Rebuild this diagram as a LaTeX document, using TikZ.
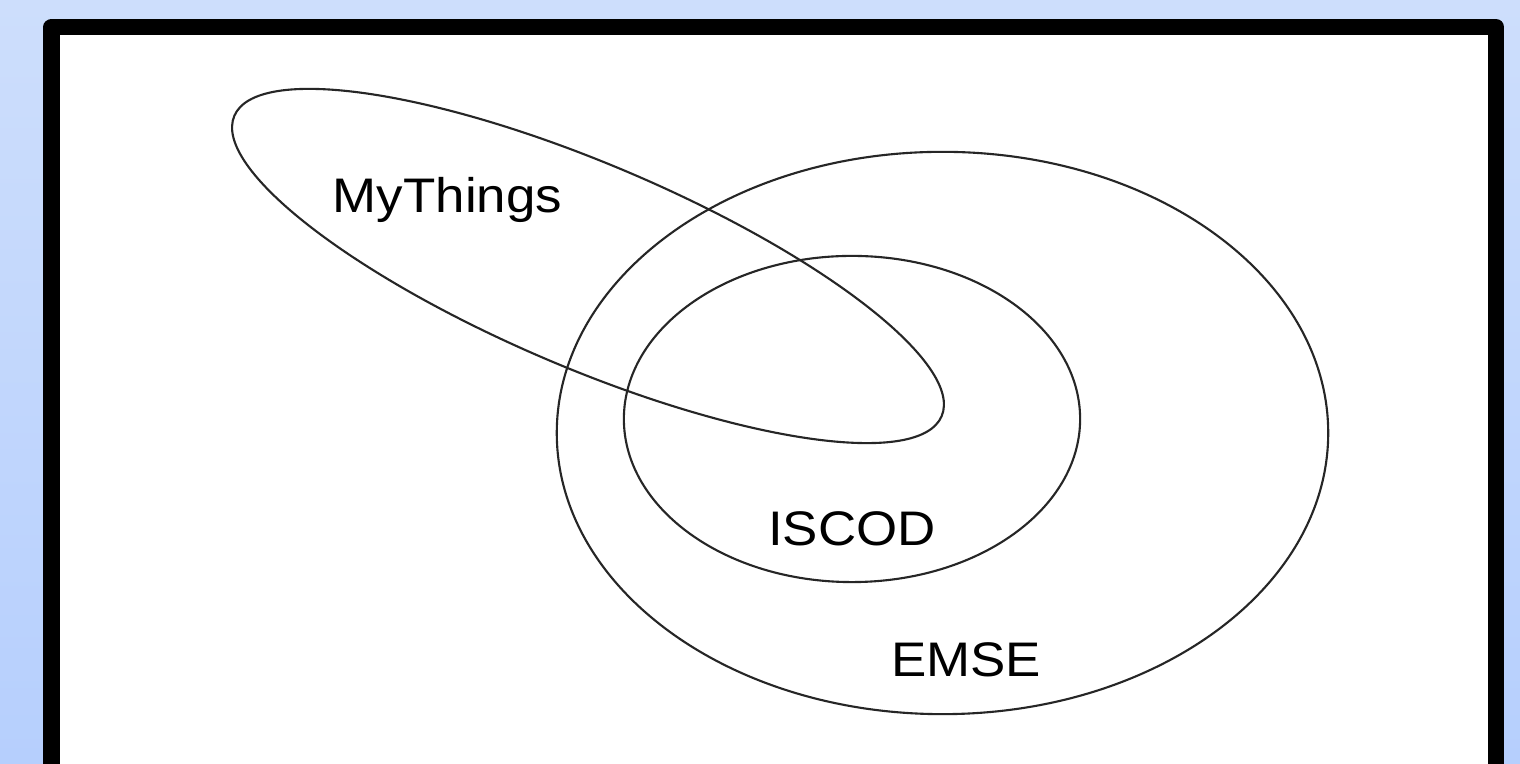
\documentclass[tikz,border=0pt]{standalone}
\usepackage{fontspec}
\setmainfont{Liberation Sans}
\usetikzlibrary{positioning}
\definecolor{bgtop}{RGB}{205,222,252}
\definecolor{bgbot}{RGB}{182,207,253}

\begin{document}
\begin{tikzpicture}[x=0.01cm,y=0.01cm,
  set/.style={line width=0.6pt, black!85},
  setname/.style={font=\fontsize{13.8}{16}\selectfont, anchor=base, inner sep=0pt, xscale=1.09}]
% 背景と枠
\shade[top color=bgtop, bottom color=bgbot] (0,0) rectangle (1520,764);
\clip (0,0) rectangle (1520,764);
\draw[line width=0.16cm, line join=round, fill=white] (51.5,-40) rectangle (1496,737);

\draw[set] (942.5,331) ellipse (3.855cm and 2.81cm);
\node[setname] (emse) at (966,87) {EMSE};

\draw[set] (852,345) ellipse (2.28cm and 1.63cm);
\node[setname] (iscod) at (852,218) {ISCOD};

\draw[set, rotate around={-23:(588,498)}] (588,498) ellipse (3.84cm and 1.02cm);
\node[setname] (mythings) at (447.5,551) {MyThings};
\end{tikzpicture}
\end{document}
